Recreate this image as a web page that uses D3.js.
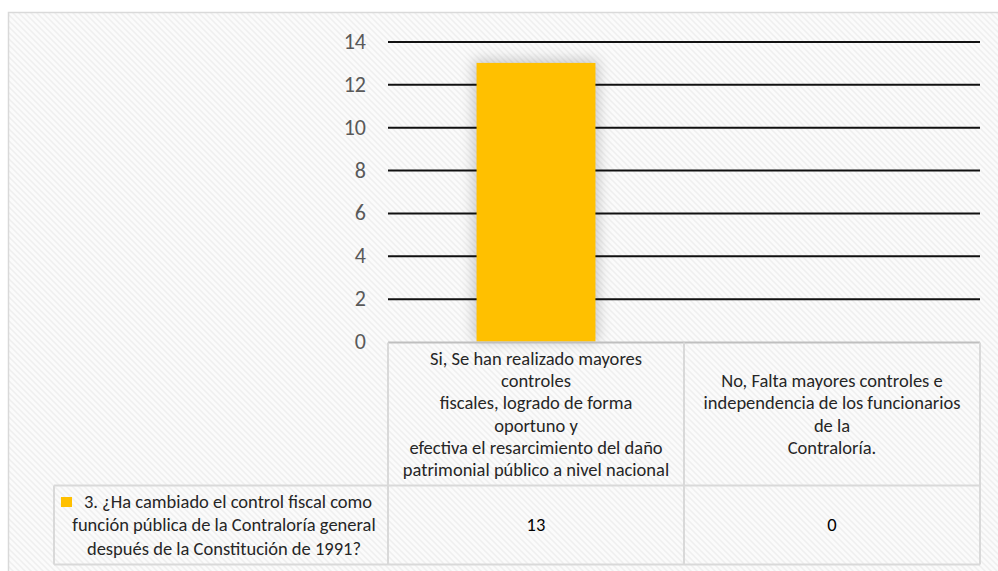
<!DOCTYPE html>
<html>
<head>
<meta charset="utf-8">
<script src="https://cdn.jsdelivr.net/npm/d3@7"></script>
<style>
  body { margin: 0; background: #fff; }
  svg { display: block; font-family: Carlito, Lato, "Open Sans", sans-serif; }
</style>
</head>
<body>
<svg id="chart" width="998" height="571"></svg>
<script>
// data
var categories = ["si", "no"];
var categoryLines = [
    ["Si, Se han realizado mayores", "controles", "fiscales, logrado de forma", "oportuno y",
     "efectiva el resarcimiento del daño", "patrimonial público a nivel nacional"],
    ["No, Falta mayores controles e", "independencia de los funcionarios", "de la", "Contraloría."]
];
var values = [13, 0];
var seriesLines = ["3. ¿Ha cambiado el control fiscal como",
    "función pública de la Contraloría general",
    "después de la Constitución de 1991?"];
var yTicks = [0, 2, 4, 6, 8, 10, 12, 14];
var barColor = "#FFC000";

var svg = d3.select("#chart");

// hatched background of the chart area
var defs = svg.append("defs");
var pat = defs.append("pattern")
    .attr("id", "hatch")
    .attr("width", 6).attr("height", 6)
    .attr("patternUnits", "userSpaceOnUse");
pat.append("rect").attr("width", 6).attr("height", 6).attr("fill", "#fbfbfb");
pat.append("path")
    .attr("d", "M-1,-1 L7,7 M-4,2 L2,8 M4,-2 L8,2")
    .attr("stroke", "#efefef")
    .attr("stroke-width", 1.5);

// soft glow behind the bar
defs.append("filter").attr("id", "blur")
    .attr("x", "-50%").attr("y", "-50%").attr("width", "200%").attr("height", "200%")
    .append("feGaussianBlur")
    .attr("stdDeviation", 7);

svg.append("rect")
    .attr("x", 8.5).attr("y", 12.5)
    .attr("width", 1000).attr("height", 570)
    .attr("fill", "url(#hatch)")
    .attr("stroke", "#d9d9d9")
    .attr("stroke-width", 1.5);

var plotLeft = 388, plotRight = 980;
var x = d3.scaleBand().domain(categories).range([plotLeft, plotRight]).padding(0);
var y = d3.scaleLinear().domain([0, 14]).range([341.5, 41.5]);
var barW = x.bandwidth() / 2.49;

svg.append("g").selectAll("rect")
    .data(values.filter(function(d) { return d > 0; }))
    .enter()
    .append("rect")
    .attr("x", function(d) { return x(categories[values.indexOf(d)]) + (x.bandwidth() - barW) / 2 - 3; })
    .attr("y", function(d) { return y(d) - 3; })
    .attr("width", barW + 6)
    .attr("height", function(d) { return y(0) - y(d) + 3; })
    .attr("fill", "#000")
    .attr("opacity", 0.2)
    .attr("filter", "url(#blur)");

// gridlines + tick labels
var yAxis = svg.append("g")
    .attr("transform", "translate(" + plotLeft + ",0)")
    .call(d3.axisLeft(y).tickValues(yTicks).tickSize(-(plotRight - plotLeft)).tickPadding(22));
yAxis.select(".domain").remove();
yAxis.selectAll(".tick line")
    .attr("stroke", function(d) { return d === 0 ? "none" : "#111"; })
    .attr("stroke-width", 2);
yAxis.selectAll(".tick text")
    .attr("fill", "#595959")
    .style("font-size", "22px")
    .style("font-family", "Carlito, Lato, sans-serif");

// bars
svg.append("g").selectAll("rect")
    .data(values)
    .enter()
    .append("rect")
    .attr("x", function(d, i) { return x(categories[i]) + (x.bandwidth() - barW) / 2; })
    .attr("y", function(d) { return y(d); })
    .attr("width", barW)
    .attr("height", function(d) { return y(0) - y(d); })
    .attr("fill", barColor);

// data table
var tableTop = 342.5, headBottom = 485.5, tableBottom = 564.5, legendLeft = 54;
var grid = svg.append("g").attr("fill", "none").attr("stroke-width", 2);
grid.append("line")
    .attr("x1", plotLeft).attr("x2", plotRight)
    .attr("y1", tableTop).attr("y2", tableTop)
    .attr("stroke", "#bfbfbf");
grid.append("path")
    .attr("d", "M" + plotLeft + "," + tableTop + " V" + tableBottom +
        " M" + x("no") + "," + tableTop + " V" + tableBottom +
        " M" + plotRight + "," + tableTop + " V" + tableBottom +
        " M" + legendLeft + "," + headBottom + " H" + plotRight +
        " M" + legendLeft + "," + tableBottom + " H" + plotRight +
        " M" + legendLeft + "," + headBottom + " V" + tableBottom)
    .attr("stroke", "#d9d9d9");

var txtSize = "18.5px";
var lineH = 22.2;
var headMid = (tableTop + headBottom) / 2;

categories.forEach(function(c, i) {
    var lines = categoryLines[i];
    var t = svg.append("text")
        .attr("text-anchor", "middle")
        .attr("fill", "#262626")
        .style("font-size", txtSize);
    t.selectAll("tspan")
        .data(lines)
        .enter()
        .append("tspan")
        .attr("x", x(c) + x.bandwidth() / 2)
        .attr("y", function(d, k) { return headMid + (k - (lines.length - 1) / 2) * lineH; })
        .attr("dy", "0.35em")
        .text(function(d) { return d; });

    svg.append("text")
        .attr("x", x(c) + x.bandwidth() / 2)
        .attr("y", (headBottom + tableBottom) / 2)
        .attr("dy", "0.35em")
        .attr("text-anchor", "middle")
        .attr("fill", "#000")
        .style("font-size", txtSize)
        .text(values[i]);
});

// legend key + series name
var rowMid = (headBottom + tableBottom) / 2;
svg.append("rect")
    .attr("x", 61).attr("y", 497)
    .attr("width", 11).attr("height", 10)
    .attr("fill", barColor);

var lt = svg.append("text")
    .attr("text-anchor", "middle")
    .attr("fill", "#262626")
    .style("font-size", txtSize);
lt.selectAll("tspan")
    .data(seriesLines)
    .enter()
    .append("tspan")
    .attr("x", function(d, k) { return k === 0 ? 228 : 224; })
    .attr("y", function(d, k) { return rowMid + (k - 1) * 23.5; })
    .attr("dy", "0.35em")
    .text(function(d) { return d; });
</script>
</body>
</html>
